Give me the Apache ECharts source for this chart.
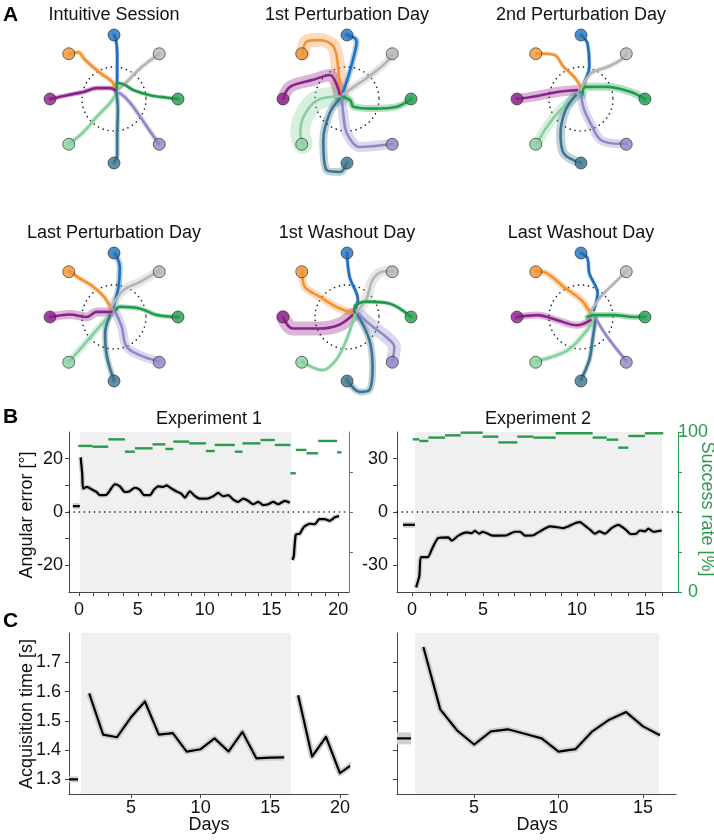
<!DOCTYPE html>
<html><head><meta charset="utf-8">
<script src="https://cdn.jsdelivr.net/npm/echarts@6/dist/echarts.min.js"></script>
<style>html,body{margin:0;padding:0;background:#fff}#c{width:714px;height:840px}</style>
</head><body><div id="c"></div>
<script>
const FONT = "'Liberation Sans', Arial, Helvetica, sans-serif";

// ---------------- Panel A data ----------------
const panelTitles = ['Intuitive Session','1st Perturbation Day','2nd Perturbation Day','Last Perturbation Day','1st Washout Day','Last Washout Day'];
// order: blue, orange, gray, green, purple, light green, teal, lavender
const targetAngles = [90, 135, 45, 0, 180, 225, 270, 315];
const trajIntuitive = [
  [[0.03,0.1],[0.05,0.35],[0.05,0.7],[0.03,0.93],[0,1]],
  [[0.02,0.17],[-0.03,0.27],[-0.22,0.41],[-0.45,0.61],[-0.56,0.73],[-0.7,0.7]],
  [[0.05,0.14],[0.2,0.27],[0.41,0.48],[0.64,0.66],[0.7,0.7]],
  [[0.04,0.14],[0.06,0.25],[0.17,0.22],[0.3,0.14],[0.56,0.06],[0.83,0.02],[1,0]],
  [[0.02,0.14],[-0.06,0.17],[-0.27,0.17],[-0.48,0.11],[-0.73,0.06],[-1,0]],
  [[0.04,0.09],[-0.06,-0.06],[-0.27,-0.28],[-0.48,-0.52],[-0.7,-0.7]],
  [[0.04,0.09],[0.06,-0.17],[0.05,-0.55],[0.05,-0.88],[0,-1]],
  [[0.09,0.09],[0.17,0.03],[0.3,-0.12],[0.52,-0.44],[0.7,-0.7]]
];
const trajPert1 = [
  [[-0.08,0.06],[0.02,0.35],[0.1,0.64],[0.15,0.9],[0.12,0.95],[0,1]],
  [[-0.11,0.04],[-0.14,0.5],[-0.21,0.82],[-0.42,0.92],[-0.63,0.9],[-0.69,0.71]],
  [[-0.08,0.06],[0.15,0.22],[0.41,0.4],[0.62,0.58],[0.71,0.7]],
  [[-0.08,0.04],[0.05,-0.02],[0.1,-0.12],[0.41,-0.15],[0.78,-0.12],[1,0]],
  [[-0.11,0.06],[-0.27,0.375],[-0.53,0.3],[-0.89,0.19],[-1,0]],
  [[-0.11,0.04],[-0.47,-0.02],[-0.68,-0.28],[-0.73,-0.54],[-0.69,-0.7]],
  [[-0.11,0.01],[-0.27,-0.22],[-0.37,-0.64],[-0.32,-1.11],[-0.11,-1.14],[0,-1]],
  [[-0.08,0.01],[-0.06,-0.22],[0,-0.54],[0.2,-0.75],[0.71,-0.7]]
];
const trajPert2 = [
  [[0,0.11],[0.07,0.3],[0.13,0.5],[0.1,0.87],[0,1]],
  [[0,0.19],[-0.11,0.35],[-0.27,0.5],[-0.42,0.69],[-0.69,0.71]],
  [[0,0.14],[0.15,0.4],[0.41,0.5],[0.62,0.61],[0.71,0.7]],
  [[0.02,0.06],[0.07,0.19],[0.41,0.19],[0.78,0.11],[1,0]],
  [[-0.06,0.14],[-0.37,0.11],[-0.73,0.04],[-1,0]],
  [[-0.06,0.06],[-0.32,-0.17],[-0.53,-0.43],[-0.69,-0.7]],
  [[-0.08,0.06],[-0.24,-0.17],[-0.32,-0.54],[-0.27,-0.85],[0,-1]],
  [[0,0.06],[0.05,-0.17],[0.15,-0.38],[0.31,-0.64],[0.62,-0.7],[0.71,-0.7]]
];
const trajPertLast = [
  [[-0.01,0.16],[0.07,0.47],[0.09,0.78],[0.02,0.99]],
  [[-0.04,0.13],[-0.16,0.32],[-0.32,0.47],[-0.53,0.6],[-0.7,0.72]],
  [[-0.04,0.16],[0.15,0.42],[0.41,0.55],[0.7,0.72]],
  [[0.02,0.1],[0.09,0.16],[0.41,0.13],[0.67,0.03],[1,0]],
  [[-0.04,0.08],[-0.27,0.08],[-0.43,0],[-0.69,0.04],[-1,0]],
  [[-0.06,0.03],[-0.27,-0.2],[-0.5,-0.47],[-0.7,-0.69]],
  [[-0.06,0.03],[-0.14,-0.26],[-0.11,-0.62],[0,-0.99]],
  [[0.02,0.08],[0.12,-0.15],[0.2,-0.47],[0.46,-0.62],[0.7,-0.69]]
];
const trajWash1 = [
  [[0.1,0.06],[0.17,0.27],[0.04,0.63],[0,1]],
  [[0.09,0.06],[-0.17,0.16],[-0.43,0.32],[-0.66,0.47],[-0.7,0.72]],
  [[0.12,0.06],[0.3,0.27],[0.4,0.58],[0.56,0.71],[0.71,0.72]],
  [[0.12,0.06],[0.12,0.16],[0.3,0.24],[0.66,0.21],[1,0]],
  [[0.09,0.03],[-0.12,-0.12],[-0.43,-0.18],[-0.85,-0.18],[-1,0]],
  [[0.12,0.03],[-0.01,-0.36],[-0.17,-0.67],[-0.38,-0.83],[-0.7,-0.7]],
  [[0.17,0.03],[0.35,-0.36],[0.4,-0.78],[0.35,-1.14],[0.2,-1.17],[0,-0.98]],
  [[0.2,0.03],[0.4,-0.15],[0.61,-0.31],[0.74,-0.47],[0.71,-0.69]]
];
const trajWashLast = [
  [[0.2,0.11],[0.26,0.37],[0.13,0.68],[0.1,0.92],[0,1]],
  [[0.15,0.06],[0,0.27],[-0.27,0.47],[-0.53,0.68],[-0.71,0.72]],
  [[0.15,0.08],[0.31,0.32],[0.52,0.53],[0.71,0.72]],
  [[0.1,0],[0.2,0.03],[0.52,0.03],[0.83,0],[1,0]],
  [[0.15,-0.05],[-0.06,-0.13],[-0.37,-0.05],[-0.68,0.03],[-1,0]],
  [[0.2,-0.05],[0.05,-0.26],[-0.21,-0.52],[-0.69,-0.69]],
  [[0.23,-0.02],[0.18,-0.36],[0.13,-0.67],[0,-0.98]],
  [[0.23,-0.02],[0.41,-0.31],[0.71,-0.69]]
];
const panelTrajs = [trajIntuitive, trajPert1, trajPert2, trajPertLast, trajWash1, trajWashLast];

// ---------------- Panel B data ----------------
const exp1Intuitive = [[0.14,2.2],[0.66,2.2]];
const exp1Perturb = [[0.72,20.5],[0.84,14.3],[0.91,8.8],[1.21,9.4],[1.54,8.5],[1.91,7.5],[2.16,6.3],[2.66,6.5],[2.91,8.1],[3.28,10.4],[3.66,9.6],[4.03,7.5],[4.35,7.7],[4.78,9.1],[5.15,8.3],[5.48,6.3],[5.9,6.3],[6.2,8.3],[6.52,9.6],[6.9,9.4],[7.15,10],[7.52,8.8],[7.9,7.7],[8.27,6.8],[8.52,5.4],[8.89,7.7],[9.27,6.0],[9.64,5.0],[10.14,5.0],[10.64,5.9],[11.01,7.2],[11.38,5.9],[11.76,6.3],[12.13,4.7],[12.51,3.8],[12.88,5.0],[13.25,4.2],[13.63,2.9],[14.0,3.8],[14.38,2.6],[14.75,2.9],[15.12,3.8],[15.5,2.9],[16.0,4.2],[16.37,3.5]];
const exp1Washout = [[16.57,-18.0],[16.67,-16.5],[16.82,-8.5],[17.12,-8.1],[17.42,-5.6],[17.87,-4.4],[18.24,-4.6],[18.57,-2.7],[18.99,-2.7],[19.36,-3.3],[19.74,-2.0],[20.06,-1.5]];
const exp1Success = [[0.54,1.61,91.3],[1.61,2.79,90.8],[2.79,4.03,95.4],[4.03,4.78,87.7],[4.78,6.10,89.8],[6.10,7.07,92.3],[7.07,7.65,89.4],[7.65,8.84,94.0],[8.84,10.09,92.9],[10.09,10.76,88.1],[10.76,12.26,91.9],[12.26,12.83,87.7],[12.83,14.18,92.9],[14.18,15.25,95.0],[15.25,16.42,91.9],[16.42,16.82,74.2],[16.82,17.62,88.8],[17.62,18.49,86.7],[18.49,19.91,94.4],[19.91,20.24,87.3]];
const exp1Shade = [[0.66,16.5]];
const exp1TickPos = [0.6,1.7,2.8,3.9,5,6,7,8,9,10,11,12,13,14,15,16,17,18,19,20];
const exp1LabelPos = [0.6,5,10,15,20];
const exp1LabelText = ['0','5','10','15','20'];

const exp2Intuitive = [[-0.58,-7.2],[0.19,-7.2]];
const exp2Perturb = [[0.26,-42.4],[0.47,-35.9],[0.57,-25.4],[1.01,-25.4],[1.27,-21.1],[1.69,-14.6],[2.34,-14.3],[2.55,-16.1],[2.98,-13.3],[3.52,-11.5],[3.84,-11.9],[4.05,-10.6],[4.33,-12.2],[4.55,-11.1],[4.92,-12.4],[5.2,-13.3],[5.67,-13.3],[6.1,-13.1],[6.63,-11.1],[6.96,-11.1],[7.28,-13.3],[7.81,-13.1],[8.24,-10.9],[8.89,-8.1],[9.32,-8.5],[9.75,-9.1],[10.07,-8.1],[10.5,-6.3],[10.82,-5.7],[11.07,-7.2],[11.46,-9.9],[11.78,-12.2],[12.06,-10.9],[12.42,-12.2],[12.85,-9.1],[13.28,-7.2],[13.72,-9.6],[14.08,-12.4],[14.43,-12.2],[14.68,-10.4],[15.0,-10.9],[15.22,-9.4],[15.54,-11.1],[16.08,-10.4]];
const exp2Success = [[0.04,0.47,95.4],[0.47,1.05,94.4],[1.05,2.12,96.5],[2.12,3.13,97.9],[3.13,4.55,99.6],[4.55,5.56,97.1],[5.56,6.78,93.5],[6.78,7.81,97.1],[7.81,9.25,96.5],[9.25,11.63,99.2],[11.63,12.53,96.5],[12.53,13.28,95.2],[13.28,13.93,90.2],[13.93,15.0,97.5],[15.0,16.18,99.2]];
const exp2Shade = [[0.19,16.1]];
const exp2TickPos = [0,1.14,2.29,3.43,4.57,5.58,6.59,7.6,8.6,9.61,10.62,11.72,12.81,13.91,15,16.1];
const exp2LabelPos = [0,4.57,10.62,15];
const exp2LabelText = ['0','5','10','15'];

// ---------------- Panel C data ----------------
const acqDays1 = [2,3,4,5,6,7,8,9,10,11,12,13,14,15,16];
const acq1Pert = [1.594,1.453,1.444,1.512,1.566,1.453,1.458,1.395,1.403,1.44,1.395,1.462,1.372,1.374,1.375];
const acqWashDays = [17,18,19,20,21];
const acq1Wash = [1.587,1.378,1.445,1.321,1.355];
const acq1Intuitive = [[0.55,1.30],[1.2,1.30]];
const acq1Shade = [[1.41,16.49]];
const acqDays2 = [2,3,4,5,6,7,8,9,10,11,12,13,14,15,16];
const acq2Pert = [1.752,1.539,1.467,1.419,1.464,1.471,1.456,1.44,1.395,1.403,1.464,1.504,1.53,1.481,1.451];
const acq2Intuitive = [[0.44,1.44],[1.27,1.44]];
const acq2Shade = [[1.51,15.95]];
const acqTicks1 = [5,10,15,20];
const acqTicks2 = [5,10,15];
const acqYTicks = [1.3,1.4,1.5,1.6,1.7];

// ---------------- styles ----------------
const COLORS = ['#1f6fbf','#f39232','#b5b5b5','#1f9c4b','#8c2189','#86cf9f','#3d7490','#8e88c7'];
const BAND_W = [
  [4,5,5,4,5,5,5,5],
  [6,14,8,7,12,20,8,10],
  [4,4,5,8,10,10,9,9],
  [6,5,9,5,9,7,6,9],
  [4,8,10,4,14,4,7,13],
  [4,7,4,6,7,6,5,4]
];
const panelCenters = [[114,99],[347,99],[581,99],[114,317],[347,317],[581,317]];
const GREEN = '#2b9a4c';
const AXC = '#444';
const TXT = '#111';

function hexA(hex, a){
  const n = parseInt(hex.slice(1),16);
  return `rgba(${(n>>16)&255},${(n>>8)&255},${n&255},${a})`;
}

const grid = [], xAxis = [], yAxis = [], series = [], graphic = [];

// Panel A grids
panelCenters.forEach((c, p) => {
  grid.push({left:c[0]-80, top:c[1]-80, width:160, height:160});
  xAxis.push({gridIndex:p, type:'value', min:-1.25, max:1.25, show:false});
  yAxis.push({gridIndex:p, type:'value', min:-1.25, max:1.25, show:false});
  series.push({
    type:'custom', xAxisIndex:p, yAxisIndex:p, z:1, silent:true, data:[[0,0]],
    renderItem:(params, api) => {
      const ctr = api.coord([0,0]);
      const r = api.size([0.5,0.5])[0];
      return {type:'circle', shape:{cx:ctr[0], cy:ctr[1], r:r},
        style:{fill:'none', stroke:'#222', lineWidth:1.6, lineDash:[0.1,5], lineCap:'round'}};
    }
  });
  panelTrajs[p].forEach((tr, i) => {
    series.push({type:'line', xAxisIndex:p, yAxisIndex:p, z:2, silent:true, data:tr, showSymbol:false, smooth:0.35,
      lineStyle:{color:hexA(COLORS[i],0.33), width:BAND_W[p][i], cap:'round', join:'round'}});
  });
  panelTrajs[p].forEach((tr, i) => {
    series.push({type:'line', xAxisIndex:p, yAxisIndex:p, z:3, silent:true, data:tr, showSymbol:false, smooth:0.35,
      lineStyle:{color:COLORS[i], width:2.6, cap:'round', join:'round'}});
  });
  series.push({type:'scatter', xAxisIndex:p, yAxisIndex:p, z:4, silent:true, symbolSize:12,
    data: targetAngles.map((a,i) => ({value:[Math.cos(a*Math.PI/180), Math.sin(a*Math.PI/180)],
      itemStyle:{color:COLORS[i], borderColor:'#222', borderWidth:0.8}}))});
  graphic.push({type:'text', x:c[0], y:(p<3?15:233),
    style:{text:panelTitles[p], font:`18px ${FONT}`, fill:TXT, align:'center', verticalAlign:'middle'}});
});

// helper series
function shadeSeries(xi, yi, data){
  return {type:'custom', xAxisIndex:xi, yAxisIndex:yi, z:0, silent:true, data:data,
    renderItem:(params, api) => {
      const cs = params.coordSys;
      const x0 = api.coord([api.value(0), 0])[0];
      const x1 = api.coord([api.value(1), 0])[0];
      return {type:'rect', shape:{x:x0, y:cs.y, width:x1-x0, height:cs.height}, style:{fill:'#f0f0f0'}};
    }};
}
function zeroLine(xi, yi, xref){
  return {type:'custom', xAxisIndex:xi, yAxisIndex:yi, z:1, silent:true, data:[[xref,0]],
    renderItem:(params, api) => {
      const cs = params.coordSys;
      const y = api.coord([api.value(0), api.value(1)])[1];
      return {type:'line', shape:{x1:cs.x, y1:y, x2:cs.x+cs.width, y2:y},
        style:{stroke:'#111', lineWidth:1.6, lineDash:[0.1,5], lineCap:'round'}};
    }};
}
function successSeries(xi, yi, data){
  return {type:'custom', xAxisIndex:xi, yAxisIndex:yi, z:3, silent:true, data:data,
    encode:{x:[0,1], y:2},
    renderItem:(params, api) => {
      const a = api.coord([api.value(0), api.value(2)]);
      const b = api.coord([api.value(1), api.value(2)]);
      return {type:'line', shape:{x1:a[0], y1:a[1], x2:b[0], y2:b[1]}, style:{stroke:GREEN, lineWidth:2.4}};
    }};
}
function meanLine(xi, yi, data, bandW, smooth){
  return [
    {type:'line', xAxisIndex:xi, yAxisIndex:yi, z:4, silent:true, data:data, showSymbol:false, smooth:smooth||0,
      lineStyle:{color:'#cfcfcf', width:bandW, cap:'butt', join:'round'}},
    {type:'line', xAxisIndex:xi, yAxisIndex:yi, z:5, silent:true, data:data, showSymbol:false, smooth:smooth||0,
      lineStyle:{color:'#000', width:2.2, join:'round'}}
  ];
}
function fmtFrom(pos, text){ return v => { const i = pos.findIndex(p => Math.abs(p - v) < 1e-6); return i >= 0 ? text[i] : ''; }; }

const baseLabel = {fontSize:18, fontFamily:FONT, color:TXT};
const axLine = {show:true, onZero:false, lineStyle:{color:AXC, width:1}};
const greenLine = {show:true, onZero:false, lineStyle:{color:GREEN, width:1}};

// ---------------- Panel B ----------------
grid.push({left:69, top:432, width:280, height:160});   // 6
grid.push({left:397, top:432, width:281, height:160});  // 7
xAxis.push({gridIndex:6, type:'value', min:-0.15, max:20.8, axisLine:axLine, splitLine:{show:false},
  axisTick:{show:true, customValues:exp1TickPos, length:4, lineStyle:{color:AXC}},
  axisLabel:Object.assign({customValues:exp1LabelPos, margin:9, formatter:fmtFrom(exp1LabelPos, exp1LabelText)}, baseLabel)});
xAxis.push({gridIndex:7, type:'value', min:-0.97, max:17.13, axisLine:axLine, splitLine:{show:false},
  axisTick:{show:true, customValues:exp2TickPos, length:4, lineStyle:{color:AXC}},
  axisLabel:Object.assign({customValues:exp2LabelPos, margin:9, formatter:fmtFrom(exp2LabelPos, exp2LabelText)}, baseLabel)});
yAxis.push({gridIndex:6, type:'value', min:-30, max:30, axisLine:axLine, splitLine:{show:false},
  axisTick:{show:true, customValues:[-20,-10,0,10,20], length:4, lineStyle:{color:AXC}},
  axisLabel:Object.assign({customValues:[-20,0,20], margin:6}, baseLabel)});
yAxis.push({gridIndex:6, type:'value', position:'right', min:0, max:100, splitLine:{show:false},
  axisLine:greenLine,
  axisTick:{show:true, customValues:[25,50,75], length:4, lineStyle:{color:GREEN}},
  axisLabel:{show:false}});
yAxis.push({gridIndex:7, type:'value', min:-45, max:45, axisLine:axLine, splitLine:{show:false},
  axisTick:{show:true, customValues:[-30,-15,0,15,30], length:4, lineStyle:{color:AXC}},
  axisLabel:Object.assign({customValues:[-30,0,30], margin:9}, baseLabel)});
yAxis.push({gridIndex:7, type:'value', position:'right', min:0, max:100, splitLine:{show:false},
  axisLine:greenLine,
  axisTick:{show:true, customValues:[0,25,50,75,100], length:4, lineStyle:{color:GREEN}},
  axisLabel:{customValues:[0,100], margin:15, align:'center', fontSize:18, fontFamily:FONT, color:GREEN}});

// indices: xAxis 6,7 ; yAxis 6(left),7(right),8(left),9(right)
series.push(shadeSeries(6, 6, exp1Shade));
series.push(zeroLine(6, 6, 0));
series.push(successSeries(6, 7, exp1Success));
series.push(...meanLine(6, 6, exp1Intuitive, 6));
series.push(...meanLine(6, 6, exp1Perturb, 5, 0.2));
series.push(...meanLine(6, 6, exp1Washout, 5, 0.2));

series.push(shadeSeries(7, 8, exp2Shade));
series.push(zeroLine(7, 8, 0));
series.push(successSeries(7, 9, exp2Success));
series.push(...meanLine(7, 8, exp2Intuitive, 6));
series.push(...meanLine(7, 8, exp2Perturb, 5, 0.2));

// ---------------- Panel C ----------------
grid.push({left:69, top:633, width:279, height:161});   // 8
grid.push({left:397, top:633, width:279, height:161});  // 9
xAxis.push({gridIndex:8, type:'value', min:0.55, max:20.58, axisLine:axLine, splitLine:{show:false},
  axisTick:{show:true, customValues:acqTicks1, length:4, lineStyle:{color:AXC}},
  axisLabel:Object.assign({customValues:acqTicks1, margin:5}, baseLabel)});
xAxis.push({gridIndex:9, type:'value', min:0.44, max:16.95, axisLine:axLine, splitLine:{show:false},
  axisTick:{show:true, customValues:acqTicks2, length:4, lineStyle:{color:AXC}},
  axisLabel:Object.assign({customValues:acqTicks2, margin:5}, baseLabel)});
yAxis.push({gridIndex:8, type:'value', min:1.25, max:1.8, axisLine:axLine, splitLine:{show:false},
  axisTick:{show:true, customValues:acqYTicks, length:4, lineStyle:{color:AXC}},
  axisLabel:Object.assign({customValues:acqYTicks, margin:8, formatter:v => v.toFixed(1)}, baseLabel)});
yAxis.push({gridIndex:9, type:'value', min:1.25, max:1.8, axisLine:axLine, splitLine:{show:false},
  axisTick:{show:true, customValues:acqYTicks, length:4, lineStyle:{color:AXC}},
  axisLabel:{show:false}});
// yAxis indices 10, 11
series.push(shadeSeries(8, 10, acq1Shade));
series.push(...meanLine(8, 10, acq1Intuitive, 6));
series.push(...meanLine(8, 10, acqDays1.map((d,i) => [d, acq1Pert[i]]), 6));
series.push(...meanLine(8, 10, acqWashDays.map((d,i) => [d, acq1Wash[i]]), 6));

series.push(shadeSeries(9, 11, acq2Shade));
series.push(...meanLine(9, 11, acq2Intuitive, 12));
series.push(...meanLine(9, 11, acqDays2.map((d,i) => [d, acq2Pert[i]]), 6));

// ---------------- texts ----------------
const bold = `bold 21px ${FONT}`;
graphic.push({type:'text', x:3, y:15, style:{text:'A', font:bold, fill:'#000', align:'left', verticalAlign:'middle'}});
graphic.push({type:'text', x:3, y:417, style:{text:'B', font:bold, fill:'#000', align:'left', verticalAlign:'middle'}});
graphic.push({type:'text', x:3, y:621, style:{text:'C', font:bold, fill:'#000', align:'left', verticalAlign:'middle'}});
graphic.push({type:'text', x:209, y:419, style:{text:'Experiment 1', font:`18px ${FONT}`, fill:TXT, align:'center', verticalAlign:'middle'}});
graphic.push({type:'text', x:538, y:419, style:{text:'Experiment 2', font:`18px ${FONT}`, fill:TXT, align:'center', verticalAlign:'middle'}});
graphic.push({type:'text', x:27, y:515, rotation:Math.PI/2, style:{text:'Angular error [°]', font:`18px ${FONT}`, fill:TXT, align:'center', verticalAlign:'middle'}});
graphic.push({type:'text', x:27, y:714, rotation:Math.PI/2, style:{text:'Acquisition time [s]', font:`18px ${FONT}`, fill:TXT, align:'center', verticalAlign:'middle'}});
graphic.push({type:'text', x:707, y:509, rotation:-Math.PI/2, style:{text:'Success rate [%]', font:`18px ${FONT}`, fill:GREEN, align:'center', verticalAlign:'middle'}});
graphic.push({type:'text', x:209, y:825, style:{text:'Days', font:`18px ${FONT}`, fill:TXT, align:'center', verticalAlign:'middle'}});
graphic.push({type:'text', x:537, y:825, style:{text:'Days', font:`18px ${FONT}`, fill:TXT, align:'center', verticalAlign:'middle'}});

const chart = echarts.init(document.getElementById('c'), null, {renderer:'canvas'});
chart.setOption({animation:false, backgroundColor:'#fff', grid, xAxis, yAxis, series, graphic});
</script></body></html>
